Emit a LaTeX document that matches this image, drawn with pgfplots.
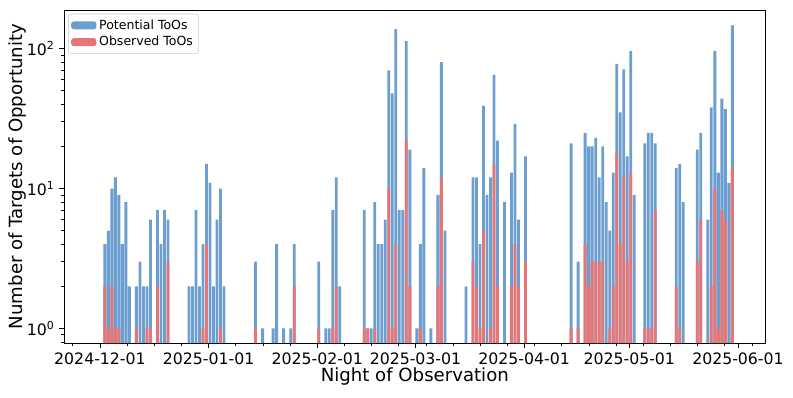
\documentclass[border=0pt]{standalone}
\usepackage{fontspec}
\setmainfont{DejaVu Sans}
\usepackage{pgfplots}
\usepackage{pgfplotstable}
\pgfplotsset{compat=1.18}
\definecolor{potblue}{RGB}{108,158,208}
\definecolor{obsred}{RGB}{230,118,118}

% day = nights since 2024-12-01
\pgfplotstableread{
d n
1 4
2 5
3 10
4 12
5 9
6 4
7 8
8 2
10 2
11 3
12 2
13 2
14 6
16 7
17 4
18 7
19 6
25 2
26 2
27 7
28 2
29 4
30 15
31 11
32 2
33 6
34 10
35 2
44 3
46 1
49 1
50 4
52 1
54 1
55 4
62 3
64 1
65 1
66 7
67 12
68 2
75 7
76 1
77 1
78 8
79 4
80 4
81 6
82 70
83 48
84 138
85 7
86 7
87 113
88 19
90 1
91 4
92 14
94 1
96 9
97 80
98 5
104 2
106 12
107 12
108 4
109 39
110 9
111 12
112 65
113 22
115 8
117 13
118 29
119 6
121 17
134 21
136 3
138 25
139 20
140 20
141 23
142 12
143 20
144 8
145 5
146 13
147 78
148 35
149 71
150 17
151 96
152 9
155 21
156 25
157 25
158 21
164 14
165 15
166 8
170 19
171 25
173 6
174 38
175 96
176 13
177 44
178 37
179 11
180 147
}\potential

\pgfplotstableread{
d n
1 2
2 1
3 2
4 1
5 1
10 1
13 1
14 1
16 2
19 3
29 1
30 4
34 1
44 1
55 2
62 1
66 1
67 2
75 1
76 1
78 1
82 10
83 1
84 4
87 22
88 2
91 1
96 2
97 12
106 3
107 2
108 1
109 5
111 1
112 15
113 2
117 2
118 4
119 2
121 3
134 1
136 1
138 4
139 2
140 3
141 3
142 3
143 3
145 1
146 2
147 18
148 4
149 12
150 3
151 13
155 1
156 1
157 1
158 7
164 2
165 1
170 3
171 6
174 2
175 10
176 1
177 7
178 6
180 14
}\observed

\begin{document}
\begin{tikzpicture}
\useasboundingbox (0,0) rectangle (595pt,298pt);
\begin{axis}[
  at={(48pt,40.5pt)}, anchor=south west,
  scale only axis, width=526.5pt, height=250pt,
  ymode=log, log origin=infty, ymin=0.785, ymax=189,
  xmin=-10.26, xmax=189.9,
  xtick={0,31,62,90,121,151,182},
  xticklabels={2024-12-01,2025-01-01,2025-02-01,2025-03-01,2025-04-01,2025-05-01,2025-06-01},
  minor xtick={-7.75,7.75,15.5,23.25,38.75,46.5,54.25,69.75,77.5,85.25,93,100.75,108.5,116.25,124,131.75,139.5,147.25,155,162.75,170.5,178.25,186},
  ytick={1,10,100},
  yticklabels={10\textsuperscript{0},10\textsuperscript{1},10\textsuperscript{2}},
  minor ytick={0.8,0.9,2,3,4,5,6,7,8,9,20,30,40,50,60,70,80,90},
  xtick pos=bottom, ytick pos=left,
  tick align=outside,
  major tick length=3.6pt, minor tick length=2.1pt,
  every tick/.style={black, line width=0.6pt},
  axis line style={line width=0.6pt},
  ticklabel style={font=\fontsize{11.8}{13}\selectfont},
  xlabel={Night of Observation},
  ylabel={Number of Targets of Opportunity},
  every axis x label/.style={at={(axis description cs:0.5,-0.099)}, anchor=center,
    font=\fontsize{13.6}{16}\selectfont},
  every axis y label/.style={at={(axis description cs:-0.066,0.5)}, rotate=90, anchor=center,
    font=\fontsize{13.6}{16}\selectfont},
  legend style={at={(axis description cs:0,1)}, anchor=north west,
    xshift=3pt, yshift=-2.8pt, draw=black!20, rounded corners=2pt,
    font=\fontsize{9.4}{10}\selectfont, row sep=0pt, inner sep=2.2pt,
    cells={anchor=west}},
]
\addplot[ybar, bar width=0.8, fill=potblue, draw=none,
  legend image code/.code={\fill[potblue] (0pt,-3pt) rectangle (19pt,3pt);}]
  table[x expr=\thisrow{d}+0.4, y=n] {\potential};
\addplot[ybar, bar width=0.8, fill=obsred, draw=none,
  legend image code/.code={\fill[obsred] (0pt,-3pt) rectangle (19pt,3pt);}]
  table[x expr=\thisrow{d}+0.4, y=n] {\observed};
\legend{Potential ToOs, Observed ToOs}
\end{axis}
\end{tikzpicture}
\end{document}
